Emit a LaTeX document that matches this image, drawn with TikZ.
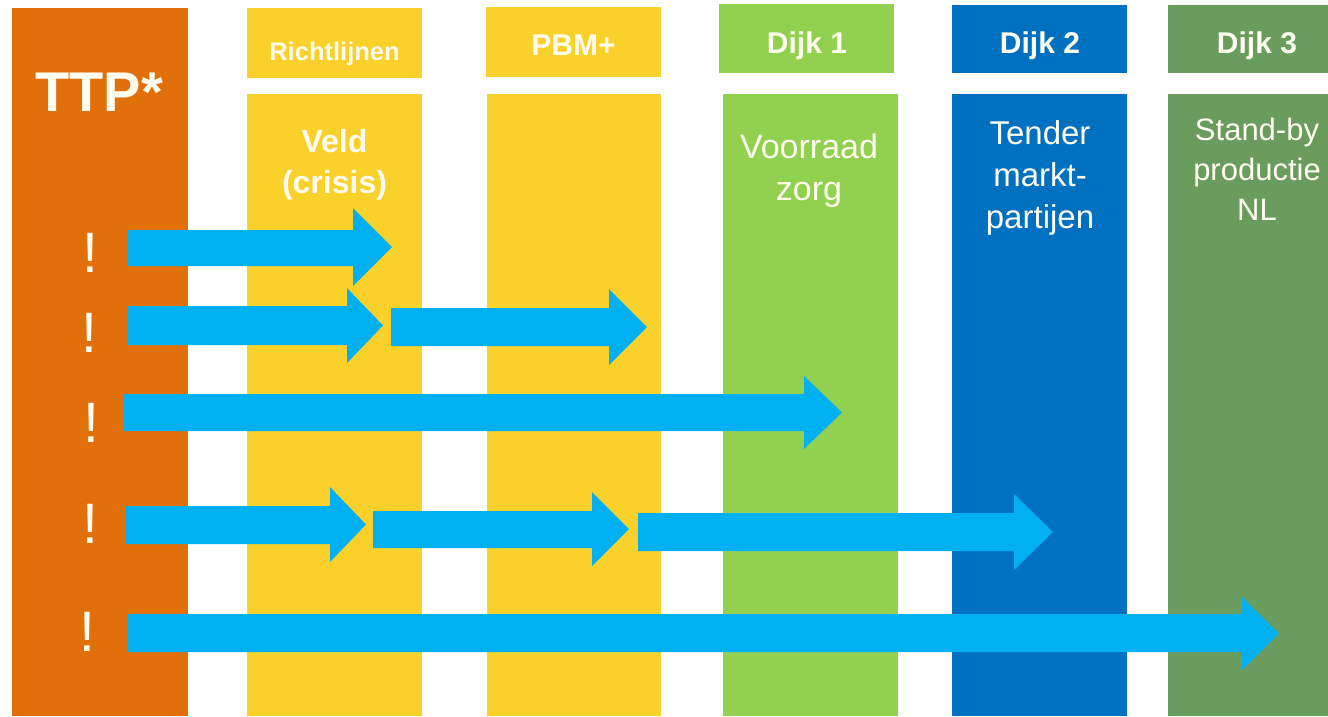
\documentclass[tikz,border=0pt]{standalone}
\usepackage{fontspec}
\setmainfont{Liberation Sans}
\definecolor{ttporange}{HTML}{E2700A}
\definecolor{pbmyellow}{HTML}{F9D12A}
\definecolor{dijkone}{HTML}{92D050}
\definecolor{dijktwo}{HTML}{0070C0}
\definecolor{dijkthree}{HTML}{6A9C5E}
\definecolor{arrowblue}{HTML}{00B0F0}
\definecolor{cream}{HTML}{FFFCF0}
\tikzset{
  colbox/.style={inner sep=0pt, outer sep=0pt},
  hdrtext/.style={text=cream, font=\bfseries\fontsize{30}{36}\selectfont, anchor=base, inner sep=0pt},
  bodytext/.style={text=cream, font=\fontsize{33}{42}\selectfont, anchor=base, align=center, inner sep=0pt},
  bodybold/.style={text=cream, font=\bfseries\fontsize{32}{41}\selectfont, anchor=base, align=center, inner sep=0pt},
  bang/.style={text=cream, font=\fontsize{57}{60}\selectfont, anchor=base, inner sep=0pt},
  arrowfill/.style={fill=arrowblue}
}
% block arrow: start x, shaft top, shaft bottom, head base x, head top, head bottom, tip x
\newcommand\blockarrow[7]{%
  \fill[arrowfill] (#1,#2) -- (#4,#2) -- (#4,#5) -- (#7,{(#5+#6)/2}) -- (#4,#6) -- (#4,#3) -- (#1,#3) -- cycle;}
\begin{document}
\begin{tikzpicture}[x=1pt,y=-1pt]
\useasboundingbox (0,0) rectangle (1328,716);
\clip (0,0) rectangle (1328,716);
\fill[white] (0,0) rectangle (1328,716);
% columns
\fill[ttporange] (12,8) rectangle (188,716);
\fill[pbmyellow] (247,8) rectangle (422,78);
\fill[pbmyellow] (247,94) rectangle (422,716);
\fill[pbmyellow] (486,7) rectangle (661,77);
\fill[pbmyellow] (487,94) rectangle (661,716);
\fill[dijkone] (719,4) rectangle (894,73);
\fill[dijkone] (723,94) rectangle (898,716);
\fill[dijktwo] (952,5) rectangle (1127,73);
\fill[dijktwo] (952,94) rectangle (1127,716);
\fill[dijkthree] (1168,5) rectangle (1343,73);
\fill[dijkthree] (1168,94) rectangle (1343,716);
% header texts
\node[hdrtext, font=\bfseries\fontsize{56}{60}\selectfont] (ttp) at (99,111) {TTP*};
\node[hdrtext, font=\bfseries\fontsize{25.5}{30}\selectfont] (richt) at (334.5,60) {Richtlijnen};
\node[hdrtext] (pbm) at (573.5,55) {PBM+};
\node[hdrtext] (d1) at (807,53) {Dijk 1};
\node[hdrtext] (d2) at (1040,53) {Dijk 2};
\node[hdrtext] (d3) at (1257,53) {Dijk 3};
% body texts (anchor base = last line's baseline)
\node[bodybold] (veld) at (334.5,193) {Veld\\(crisis)};
\node[bodytext, font=\fontsize{34}{42}\selectfont] (voorraad) at (809,200) {Voorraad\\zorg};
\node[bodytext] (tender) at (1040,228) {Tender\\markt-\\partijen};
\node[bodytext, font=\fontsize{31}{40}\selectfont] (standby) at (1257,220) {Stand-by\\productie\\NL};
% exclamation marks
\node[bang] (b1) at (90,272) {!};
\node[bang] (b2) at (89,352) {!};
\node[bang] (b3) at (91,442) {!};
\node[bang] (b4) at (90,543) {!};
\node[bang] (b5) at (87,651) {!};
% arrows
\blockarrow{128}{230}{266}{353}{208}{286}{392}
\blockarrow{128}{306}{345}{347}{288}{363}{383}
\blockarrow{391}{308}{346}{609}{289}{365}{647}
\blockarrow{124}{394}{431}{804}{376}{449}{842}
\blockarrow{126}{506}{544}{330}{487}{562}{366}
\blockarrow{373}{511}{548}{592}{492}{566}{629}
\blockarrow{638}{513}{551}{1014}{494}{570}{1053}
\blockarrow{128}{614}{652}{1242}{597}{670}{1279}
\end{tikzpicture}
\end{document}
